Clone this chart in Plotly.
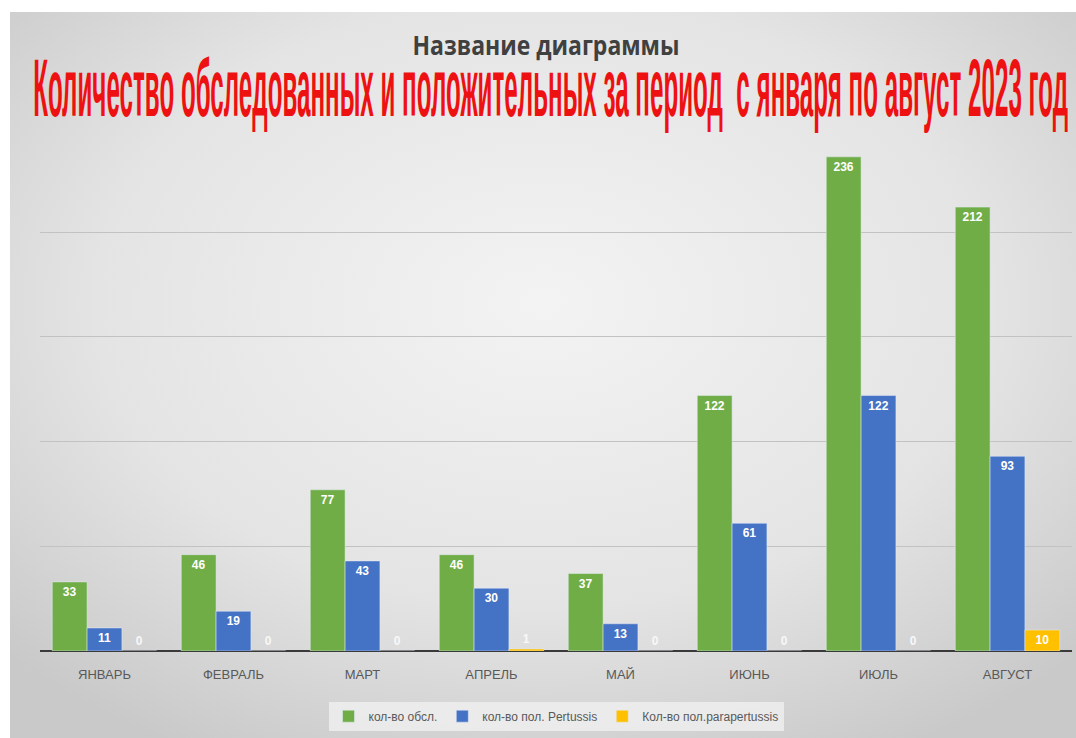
import base64
import plotly.graph_objects as go

months = ["ЯНВАРЬ", "ФЕВРАЛЬ", "МАРТ", "АПРЕЛЬ", "МАЙ", "ИЮНЬ", "ИЮЛЬ", "АВГУСТ"]
examined = [33, 46, 77, 46, 37, 122, 236, 212]
pertussis = [11, 19, 43, 30, 13, 61, 122, 93]
parapertussis = [0, 0, 0, 1, 0, 0, 0, 10]

series_names = ["кол-во обсл.", "кол-во пол. Pertussis", "Кол-во пол.parapertussis"]
colors = ["#70AD47", "#4472C4", "#FFC000"]

W, H = 1076, 738
L, R, T, B = 40, 4, 138, 87
pw, ph = W - L - R, H - T - B

svg = '''<svg xmlns="http://www.w3.org/2000/svg" width="1066" height="726" viewBox="0 0 1066 726" preserveAspectRatio="none">
<defs><radialGradient id="g" cx="50%" cy="40%" r="70%">
<stop offset="0%" stop-color="#f3f3f3"/><stop offset="60%" stop-color="#e4e4e4"/><stop offset="100%" stop-color="#c9c9c9"/>
</radialGradient></defs><rect width="1066" height="726" fill="url(#g)"/></svg>'''
src = "data:image/svg+xml;base64," + base64.b64encode(svg.encode()).decode()

FONT = "Liberation Sans, Arial, sans-serif"

fig = go.Figure()
for name, vals, col in zip(series_names, [examined, pertussis, parapertussis], colors):
    pos = ["inside" if v >= 5 else "outside" for v in vals]
    fig.add_trace(go.Bar(
        x=months, y=vals, name=name, marker_color=col,
        text=[str(v) for v in vals], textposition=pos,
        insidetextanchor="end", constraintext="none", cliponaxis=False,
        textfont=dict(family=FONT, size=12, color="white", weight="bold"),
        outsidetextfont=dict(family=FONT, size=12, color="#f8f8f8", weight="bold"),
    ))

fig.update_layout(
    width=W, height=H,
    margin=dict(l=L, r=R, t=T, b=B),
    paper_bgcolor="white", plot_bgcolor="rgba(0,0,0,0)",
    barmode="group", bargap=0.19, bargroupgap=0,
    showlegend=True,
    legend=dict(orientation="h", x=0.5, xanchor="center", y=-0.127, yanchor="middle",
                bgcolor="rgba(240,240,240,0.8)",
                font=dict(family=FONT, size=12, color="#595959"),
                itemwidth=30, traceorder="normal"),
    xaxis=dict(showgrid=False, showline=False, ticks="", ticklabelstandoff=14,
               tickfont=dict(family=FONT, size=13, color="#595959")),
    yaxis=dict(range=[0, 245], dtick=50, showticklabels=False, gridcolor="#c2c2c2", gridwidth=1,
               zeroline=True, zerolinecolor="#3a3a3a", zerolinewidth=1.5, fixedrange=True),
    images=[dict(source=src, xref="paper", yref="paper",
                 x=(10 - L) / pw, y=(H - B - 12) / ph, sizex=1066 / pw, sizey=726 / ph,
                 xanchor="left", yanchor="top", sizing="stretch", layer="below")],
    annotations=[
        dict(text="<b>Название диаграммы</b>", xref="paper", yref="paper",
             x=(546 - L) / pw, y=(H - B - 45) / ph, xanchor="center", yanchor="middle", showarrow=False,
             font=dict(family="Open Sans, sans-serif", size=27, color="#404040")),
        dict(text="<b>Количество обследованных и положительных за период  с января по август 2023 год</b>",
             xref="paper", yref="paper",
             x=(550 - L) / pw, y=(H - B - 88) / ph, xanchor="center", yanchor="middle", showarrow=False,
             font=dict(family=FONT, size=82, color="#EE1111")),
    ],
)

post = """
(function(){
var gd = document.getElementById('{plot_id}');
var targets = [['Количество', 1035], ['Название', 267]];
function fix(){
  gd.querySelectorAll('text.annotation-text').forEach(function(t){
    targets.forEach(function(p){
      if (t.textContent.indexOf(p[0]) === 0) {
        var w = t.getBBox().width;
        if (w > 0) {
          t.style.transformBox = 'fill-box';
          t.style.transformOrigin = '50% 50%';
          t.style.transform = 'scaleX(' + (p[1] / w) + ')';
        }
      }
    });
  });
}
fix();
setTimeout(fix, 30);
if (gd.on) { gd.on('plotly_afterplot', fix); }
})();
"""

fig.write_html("out.html", post_script=post)
